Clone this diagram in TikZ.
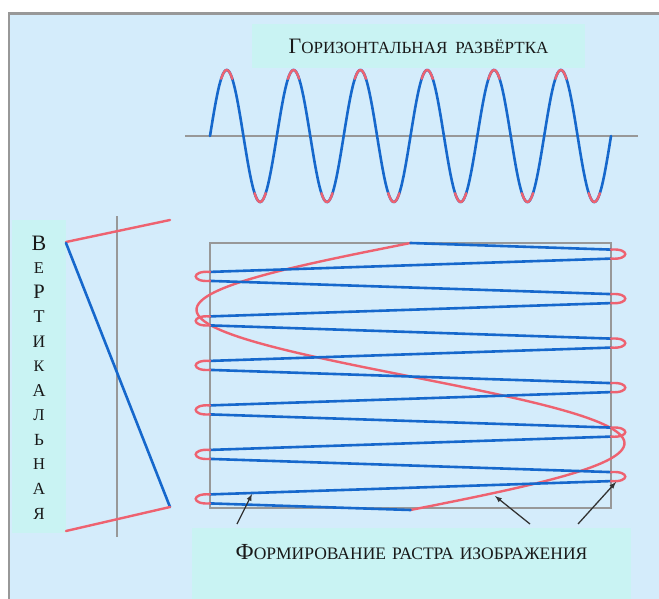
\documentclass[tikz,border=0pt]{standalone}
\usepackage{fontspec}
\setmainfont{Liberation Serif}
\usepackage{tikz}
\usetikzlibrary{arrows}
\definecolor{panelblue}{RGB}{212,236,251}
\definecolor{labelcyan}{RGB}{201,243,243}
\definecolor{traceblue}{RGB}{22,104,204}
\definecolor{retracered}{RGB}{238,98,112}
\definecolor{axisgray}{RGB}{152,152,152}

\begin{document}
\begin{tikzpicture}[x=1pt,y=-1pt,
  trace/.style={draw=traceblue, line width=2.6pt, line cap=round},
  retrace/.style={draw=retracered, line width=2.4pt, line cap=round},
  axisline/.style={draw=axisgray, line width=2pt},
  labelbox/.style={fill=labelcyan, inner sep=0pt, text=black!90},
  smallcaps/.style={font=\fontsize{17}{20}\selectfont},
  pointer/.style={-latex, draw=black!80, line width=1.3pt}]
\useasboundingbox (0,0) rectangle (659,599);
\fill[panelblue] (8,13) rectangle (659,599);
\draw[axisgray, line width=3pt] (8,14) -- (659,14);
\draw[axisgray, line width=2pt] (9,13) -- (9,599);

% labels
\node[labelbox, smallcaps, anchor=north, minimum width=333pt, text height=29pt, text depth=15pt]
  (hlabel) at (418.5,24) {{\fontsize{22}{24}\selectfont Г}ОРИЗОНТАЛЬНАЯ\hspace{8pt}РАЗВЁРТКА};
\node[labelbox, font=\fontsize{17.5}{20}\selectfont, anchor=north, minimum width=439pt, text height=31pt, text depth=40pt]
  (rasterlabel) at (411.5,528) {{\fontsize{23}{24}\selectfont Ф}ОРМИРОВАНИЕ\hspace{6pt}РАСТРА\hspace{6pt}ИЗОБРАЖЕНИЯ};
\node[labelbox, minimum width=54pt, minimum height=313pt] (vlabel) at (39,376.5) {};
\foreach \ch/\sz [count=\i from 0] in {В/22,Е/16.5,Р/20.5,Т/18,И/17.5,К/16,А/18,Л/16.5,Ь/17,Н/16.5,А/17,Я/17}
  \node[text=black!90, font=\fontsize{\sz}{\sz}\selectfont] (v\i) at (39,{243+24.6*\i}) {\ch};

% horizontal sweep
\draw[axisline] (185,136) -- (638,136);
\draw[trace] plot[domain=0:2160, samples=360, smooth] ({210+0.185648*\x},{136-66*sin(\x)});
\foreach \k in {0,...,5}{
  \pgfmathsetmacro\ta{60+360*\k}
  \pgfmathsetmacro\tb{120+360*\k}
  \pgfmathsetmacro\tc{240+360*\k}
  \pgfmathsetmacro\td{300+360*\k}
  \draw[retrace] plot[domain=\ta:\tb, samples=12, smooth] ({210+0.185648*\x},{136-66*sin(\x)});
  \draw[retrace] plot[domain=\tc:\td, samples=12, smooth] ({210+0.185648*\x},{136-66*sin(\x)});
}

% vertical sweep
\draw[axisline] (117,216) -- (117,537);
\draw[retrace] (66,242) -- (170,220);
\draw[trace] (66,243) -- (170,507);
\draw[retrace] (66,531) -- (170,507);

% raster
\draw[axisline] (210,243) rectangle (611,508);
\draw[retrace] plot[domain=0:360, samples=120, smooth] ({410.5+214*sin(\x)},{510-0.741667*\x});
\draw[trace] (410.5,243) -- (611,249.6);
\foreach \k in {0,...,5}{
  \pgfmathsetmacro\yr{254.1+44.5*\k}
  \pgfmathsetmacro\yl{276.4+44.5*\k}
  \draw[trace] (611,{\yr+4.5}) -- (210,{\yl-4.5});
  \ifnum\k<5
    \draw[trace] (210,{\yl+4.5}) -- (611,{\yr+40});
  \else
    \draw[trace] (210,{\yl+4.5}) -- (410.5,510);
  \fi
  \draw[retrace] (611,{\yr-4.5}) .. controls (630,{\yr-6}) and (630,{\yr+6}) .. (611,{\yr+4.5});
  \draw[retrace] (210,{\yl-4.5}) .. controls (191,{\yl-6}) and (191,{\yl+6}) .. (210,{\yl+4.5});
}

% pointers
\coordinate (ptail1) at (237,524);
\coordinate (ptail2) at (530,524);
\coordinate (ptail3) at (578,524);
\coordinate (phead1) at (252,494);
\coordinate (phead2) at (495,496);
\coordinate (phead3) at (616,482);
\draw[pointer] (ptail1) -- (phead1);
\draw[pointer] (ptail2) -- (phead2);
\draw[pointer] (ptail3) -- (phead3);
\end{tikzpicture}
\end{document}
